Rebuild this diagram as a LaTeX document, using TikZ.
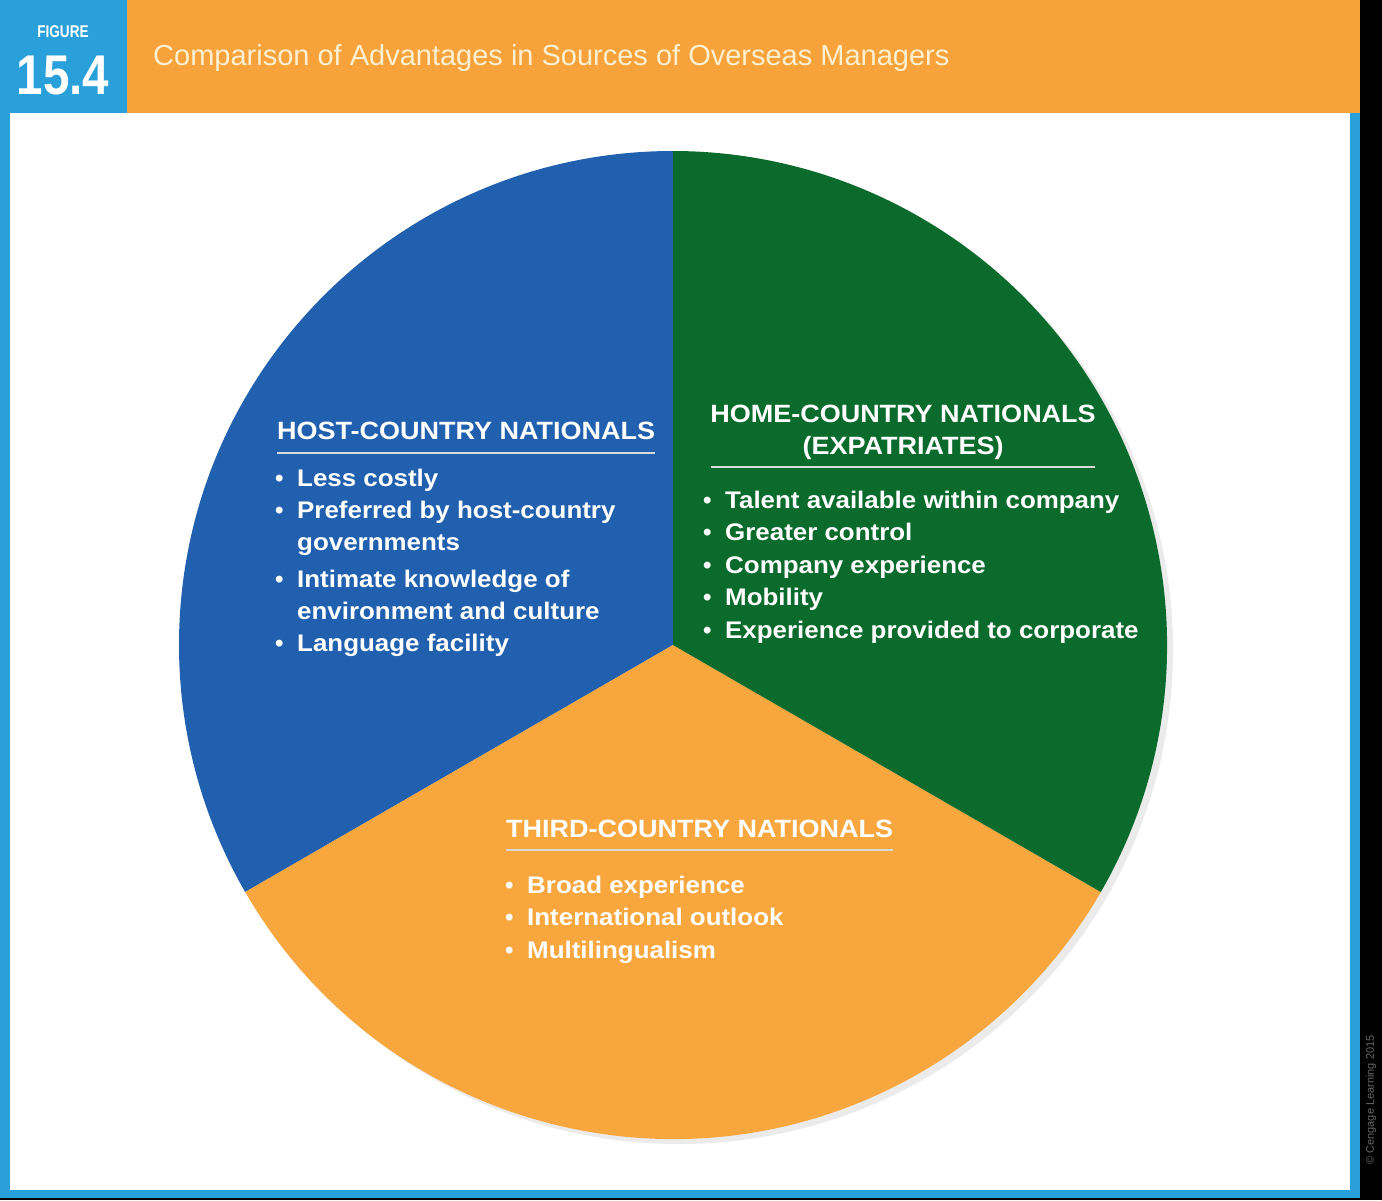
\documentclass[tikz,border=0pt]{standalone}
\usepackage{fontspec}
\setmainfont{Liberation Sans}
\newcommand\hsc[1]{\scalebox{1.08}[1]{#1}}
\begin{document}
\begin{tikzpicture}[x=1pt,y=-1pt]
\definecolor{hdrorange}{HTML}{F7A23B}
\definecolor{figblue}{HTML}{2AA0DB}
\definecolor{pieblue}{HTML}{2160AE}
\definecolor{piegreen}{HTML}{0B6B2C}
\definecolor{pieorange}{HTML}{F8A63E}
\definecolor{cream}{HTML}{FDF0D0}
\tikzset{
  head/.style={text=white,font=\bfseries\fontsize{25}{32}\selectfont,inner sep=0pt},
  item/.style={text=white,font=\bfseries\fontsize{24}{32}\selectfont,inner sep=0pt,anchor=base west},
  rule/.style={draw=white!85!black,line width=2pt}
}
\useasboundingbox (0,0) rectangle (1382,1200);
\fill[black] (0,0) rectangle (1382,1200);
\fill[figblue] (0,0) rectangle (1360,1198);
\fill[white] (10,113) rectangle (1350,1190);
\fill[hdrorange] (127,0) rectangle (1360,113);
\node[text=white,font=\bfseries\fontsize{17}{17}\selectfont,inner sep=0pt] (fig) at (63,32) {\scalebox{0.8}[1]{FIGURE}};
\node[text=white,font=\bfseries\fontsize{56}{56}\selectfont,inner sep=0pt] (num) at (63,76) {\scalebox{0.85}[1]{15.4}};
\node[text=cream,font=\fontsize{29}{29}\selectfont,anchor=west,inner sep=0pt] (title) at (153,58) {Comparison of Advantages in Sources of Overseas Managers};
\node[rotate=90,text=black!60,font=\fontsize{11}{11}\selectfont,inner sep=0pt] (copy) at (1371,1100) {© Cengage Learning 2015};
% pie
\coordinate (c) at (673,645);
\fill[black!8] (679,650) circle (494);
\fill[pieblue] (c) -- ++(-90:494) arc[start angle=-90,end angle=-210,radius=494] -- cycle;
\fill[pieorange] (c) -- ++(-210:494) arc[start angle=-210,end angle=-330,radius=494] -- cycle;
\fill[piegreen] (c) -- ++(-330:494) arc[start angle=-330,end angle=-450,radius=494] -- cycle;
% host
\node[head,anchor=base west] (h1) at (277,439) {\hsc{HOST-COUNTRY NATIONALS}};
\draw[rule] (h1.south west |- 0,453) -- (h1.south east |- 0,453);
\node[item] (h1b1) at (275,486) {•};\node[item] (h1t1) at (297,486) {\hsc{Less costly}};
\node[item] (h1b2) at (275,518) {•};\node[item] (h1t2) at (297,518) {\hsc{Preferred by host-country}};
\node[item] (h1t2b) at (297,550) {\hsc{governments}};
\node[item] (h1b3) at (275,587) {•};\node[item] (h1t3) at (297,587) {\hsc{Intimate knowledge of}};
\node[item] (h1t3b) at (297,619) {\hsc{environment and culture}};
\node[item] (h1b4) at (275,651) {•};\node[item] (h1t4) at (297,651) {\hsc{Language facility}};
% home
\node[head,anchor=base] (g1) at (903,422) {\hsc{HOME-COUNTRY NATIONALS}};
\node[head,anchor=base] (g2) at (903,454) {\hsc{(EXPATRIATES)}};
\draw[rule] (711,467) -- (1095,467);
\node[item] (gb1) at (703,508) {•};\node[item] (gt1) at (725,508) {\hsc{Talent available within company}};
\node[item] (gb2) at (703,540) {•};\node[item] (gt2) at (725,540) {\hsc{Greater control}};
\node[item] (gb3) at (703,573) {•};\node[item] (gt3) at (725,573) {\hsc{Company experience}};
\node[item] (gb4) at (703,605) {•};\node[item] (gt4) at (725,605) {\hsc{Mobility}};
\node[item] (gb5) at (703,638) {•};\node[item] (gt5) at (725,638) {\hsc{Experience provided to corporate}};
% third
\node[head,anchor=base west] (t1) at (506,837) {\hsc{THIRD-COUNTRY NATIONALS}};
\draw[rule] (t1.south west |- 0,850) -- (t1.south east |- 0,850);
\node[item] (tb1) at (505,893) {•};\node[item] (tt1) at (527,893) {\hsc{Broad experience}};
\node[item] (tb2) at (505,925) {•};\node[item] (tt2) at (527,925) {\hsc{International outlook}};
\node[item] (tb3) at (505,958) {•};\node[item] (tt3) at (527,958) {\hsc{Multilingualism}};
\end{tikzpicture}
\end{document}
